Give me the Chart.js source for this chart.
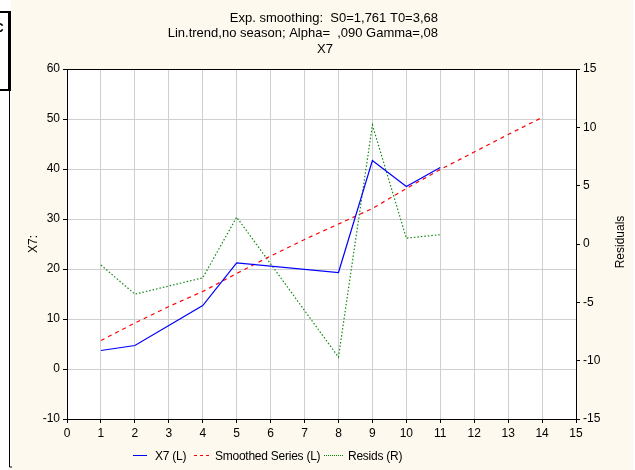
<!DOCTYPE html>
<html>
<head>
    <title>Exp. smoothing X7</title>
    <script src="https://cdn.jsdelivr.net/npm/chart.js"></script>
    <style>
        body {
            margin: 0;
            background-color: white;
            font-family: Arial, "Liberation Sans", sans-serif;
        }
        #wrap {
            position: relative;
            width: 635px;
            height: 470px;
        }
        #legend {
            position: absolute;
            left: 0;
            top: 449px;
            font-size: 12px;
            letter-spacing: -0.25px;
            color: #000;
            white-space: nowrap;
        }
        #legend span {
            position: absolute;
            top: 0;
        }
        .sw {
            position: absolute;
            top: 6px;
            height: 1px;
        }
    </style>
</head>
<body>
<div id="wrap">
    <canvas id="expChart" width="635" height="470"></canvas>
    <div id="legend">
        <div class="sw" style="left:133px;width:14px;background:#0000ff"></div>
        <span style="left:155px">X7 (L)</span>
        <div class="sw" style="left:194px;width:16px;background:repeating-linear-gradient(90deg,#ff0000 0 3px,transparent 3px 6px)"></div>
        <span style="left:215px">Smoothed Series (L)</span>
        <div class="sw" style="left:324px;width:19px;background:repeating-linear-gradient(90deg,#008000 0 1px,transparent 1px 2px)"></div>
        <span style="left:348px">Resids (R)</span>
    </div>
</div>
<script>
    // case numbers that have observations
    let caseNums = [1, 2, 4, 5, 8, 9, 10, 11];
    let x7Values = [3.7, 4.7, 12.7, 21.2, 19.3, 41.7, 36.5, 40.3];
    let residValues = [-1.8, -4.3, -2.9, 2.3, -9.7, 10.2, 0.5, 0.8];

    // smoothed series incl. forecast to case 14
    let smoothCases = [1, 2, 3, 4, 5, 6, 7, 8, 9, 10, 11, 12, 13, 14];
    let smoothValues = [5.7, 9.2, 12.5, 15.5, 19.1, 22.6, 25.9, 29.0, 32.1, 36.1, 39.9, 43.4, 46.9, 50.3];

    // the first two title lines are cut off at the right in the original window
    let titleLines = [
        'Exp. smoothing:  S0=1,761 T0=3,68',
        'Lin.trend,no season; Alpha=  ,090 Gamma=,08',
        'X7'
    ];

    let fontFamily = 'Arial, "Liberation Sans", sans-serif';
    let font = { family: fontFamily, size: 12 };

    function pairs(xs, ys) {
        return xs.map((x, i) => ({ x: x, y: ys[i] }));
    }

    // cream window background, white plot area, frame lines, titles
    let backdrop = {
        id: 'backdrop',
        beforeDraw(chart) {
            let ctx = chart.ctx;
            let a = chart.chartArea;
            ctx.save();
            ctx.fillStyle = '#ffffff';
            ctx.fillRect(0, 0, 635, 470);
            ctx.fillStyle = '#fdf9ee';
            ctx.fillRect(11, 0, 622, 470);
            ctx.fillStyle = '#ffffff';
            ctx.fillRect(a.left, a.top, a.right - a.left, a.bottom - a.top);
            ctx.strokeStyle = '#000';
            ctx.lineWidth = 3;
            ctx.beginPath();
            ctx.moveTo(9.5, 11);
            ctx.lineTo(9.5, 91);
            ctx.stroke();
            ctx.lineWidth = 2;
            ctx.beginPath();
            ctx.moveTo(0, 12);
            ctx.lineTo(11, 12);
            ctx.moveTo(0, 90);
            ctx.lineTo(11, 90);
            ctx.stroke();
            ctx.lineWidth = 1;
            ctx.beginPath();
            ctx.moveTo(9.5, 91);
            ctx.lineTo(9.5, 467);
            ctx.lineTo(12, 467);
            ctx.stroke();
            ctx.fillStyle = '#000';
            ctx.font = 'bold 12px ' + fontFamily;
            ctx.fillText('C', -5, 32);
            ctx.restore();
        },
        afterDraw(chart) {
            let ctx = chart.ctx;
            let a = chart.chartArea;
            ctx.save();
            ctx.strokeStyle = '#000';
            ctx.lineWidth = 1;
            ctx.beginPath();
            ctx.moveTo(a.left, a.top + 0.5);
            ctx.lineTo(a.right, a.top + 0.5);
            ctx.stroke();

            ctx.fillStyle = '#000';
            ctx.font = '13px ' + fontFamily;
            ctx.textBaseline = 'middle';
            ctx.textAlign = 'right';
            ctx.fillText(titleLines[0], 438, 18);
            ctx.fillText(titleLines[1], 438, 33);
            ctx.textAlign = 'center';
            ctx.fillText(titleLines[2], 325, 49);

            // right axis title reads bottom to top
            ctx.font = '12px ' + fontFamily;
            ctx.translate(621, 242);
            ctx.rotate(-Math.PI / 2);
            ctx.fillText('Residuals', 0, 0);
            ctx.restore();
        }
    };

    new Chart(document.getElementById('expChart'), {
        type: 'line',
        data: {
            datasets: [{
                label: 'X7 (L)',
                data: pairs(caseNums, x7Values),
                borderColor: '#0000ff',
                borderWidth: 1.2,
                pointRadius: 0,
                yAxisID: 'y'
            }, {
                label: 'Smoothed Series (L)',
                data: pairs(smoothCases, smoothValues),
                borderColor: '#ff0000',
                borderWidth: 1.2,
                borderDash: [4, 4],
                pointRadius: 0,
                yAxisID: 'y'
            }, {
                label: 'Resids (R)',
                data: pairs(caseNums, residValues),
                borderColor: '#108a10',
                borderWidth: 1.2,
                borderDash: [1.5, 2],
                pointRadius: 0,
                yAxisID: 'y1'
            }]
        },
        options: {
            responsive: false,
            animation: false,
            layout: { padding: { left: 22, right: 4, top: 69, bottom: 28 } },
            plugins: {
                legend: { display: false },
                tooltip: { enabled: false },
                title: { display: false }
            },
            scales: {
                x: {
                    type: 'linear',
                    min: 0,
                    max: 15,
                    ticks: { stepSize: 1, color: '#000', font: font, padding: 3, maxRotation: 0 },
                    grid: { color: '#cfcfcf', tickColor: '#000', tickLength: 4 },
                    border: { color: '#000' },
                    afterFit(s) { s.height = 23; }
                },
                y: {
                    position: 'left',
                    min: -10,
                    max: 60,
                    ticks: { stepSize: 10, color: '#000', font: font, padding: 3 },
                    grid: { color: '#cfcfcf', tickColor: '#000', tickLength: 4 },
                    border: { color: '#000' },
                    title: { display: true, text: 'X7:', color: '#000', font: font, padding: 4 },
                    afterFit(s) { s.width = 45; }
                },
                y1: {
                    position: 'right',
                    min: -15,
                    max: 15,
                    ticks: { stepSize: 5, color: '#000', font: font, padding: 3 },
                    grid: { drawOnChartArea: false, tickColor: '#000', tickLength: 4 },
                    border: { color: '#000' },
                    afterFit(s) { s.width = 55; }
                }
            }
        },
        plugins: [backdrop]
    });
</script>
</body>
</html>
